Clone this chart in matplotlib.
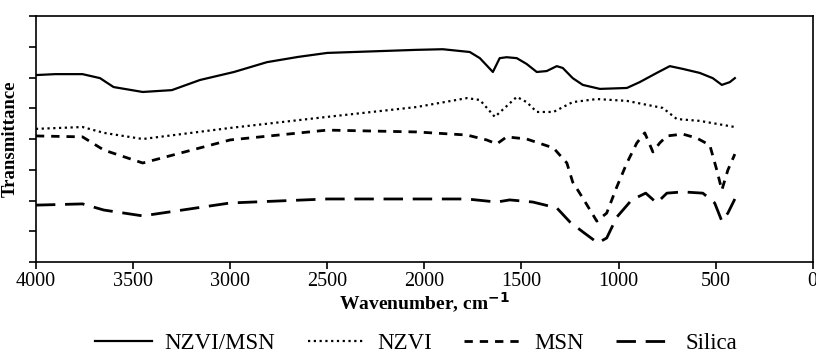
import matplotlib
matplotlib.use("Agg")
import matplotlib.pyplot as plt
import numpy as np

plt.rcParams['font.family'] = ['Liberation Serif', 'DejaVu Serif']

# FTIR spectra (wavenumber in cm-1, transmittance in arbitrary units)
nzvi_msn_x = [4000, 3900, 3760, 3670, 3600, 3450, 3300, 3155, 2980, 2810, 2650, 2500, 2040, 1905,
              1766, 1714, 1647, 1612, 1576, 1524, 1473, 1421, 1370, 1318, 1287, 1236, 1184, 1096,
              957, 891, 803, 736, 669, 582, 515, 468, 427, 401]
nzvi_msn_y = [6.08, 6.11, 6.11, 5.98, 5.69, 5.53, 5.59, 5.92, 6.18, 6.5, 6.67, 6.8, 6.9, 6.92,
              6.83, 6.63, 6.18, 6.63, 6.66, 6.63, 6.44, 6.18, 6.21, 6.37, 6.31, 5.98, 5.76, 5.63,
              5.66, 5.85, 6.15, 6.37, 6.28, 6.15, 5.98, 5.76, 5.85, 5.98]

nzvi_x = [4000, 3760, 3650, 3450, 3000, 2500, 2040, 1781, 1714, 1637, 1524, 1473, 1421, 1335,
          1236, 1112, 957, 772, 700, 582, 401]
nzvi_y = [4.33, 4.39, 4.2, 4.0, 4.36, 4.72, 5.04, 5.33, 5.27, 4.72, 5.37, 5.2, 4.88, 4.88,
          5.2, 5.3, 5.24, 5.01, 4.65, 4.59, 4.39]

msn_x = [4000, 3760, 3650, 3450, 3000, 2500, 2040, 1781, 1679, 1627, 1576, 1473, 1335, 1266,
         1236, 1184, 1112, 1061, 1009, 957, 906, 865, 823, 788, 751, 669, 597, 530, 494, 468,
         437, 401]
msn_y = [4.1, 4.07, 3.64, 3.22, 3.97, 4.29, 4.23, 4.13, 3.97, 3.84, 4.07, 4.0, 3.71, 3.22,
         2.6, 2.08, 1.33, 1.59, 2.44, 3.22, 3.87, 4.2, 3.58, 3.87, 4.1, 4.16, 4.03, 3.8, 2.99, 2.34,
         2.99, 3.51]

silica_x = [4000, 3760, 3650, 3450, 3000, 2500, 2040, 1781, 1627, 1560, 1441, 1318, 1250, 1184,
            1107, 1061, 1009, 932, 860, 803, 751, 669, 566, 505, 468, 437, 401]
silica_y = [1.85, 1.89, 1.69, 1.5, 1.92, 2.05, 2.05, 2.05, 1.95, 2.02, 1.95, 1.76, 1.3, 0.98,
            0.62, 0.78, 1.46, 2.02, 2.24, 1.92, 2.24, 2.28, 2.24, 1.92, 1.33, 1.59, 2.05]

xticks = [4000, 3500, 3000, 2500, 2000, 1500, 1000, 500, 0]

fig = plt.figure(figsize=(8.16, 3.56), dpi=100)
ax = fig.add_axes([0.044, 0.264, 0.952, 0.691])

ax.plot(nzvi_msn_x, nzvi_msn_y, color='black', lw=1.6, ls='-', label='NZVI/MSN')
ax.plot(nzvi_x, nzvi_y, color='black', lw=1.6, ls=(0, (1, 1.6)), label='NZVI')
ax.plot(msn_x, msn_y, color='black', lw=2, ls=(0, (3, 2.5)), label='MSN')
ax.plot(silica_x, silica_y, color='black', lw=2, ls=(0, (7, 3.5)), label='Silica')

ax.set_xlim(4000, 0)
ax.set_ylim(0, 8)
ax.set_xticks(xticks)
ax.set_xticklabels([str(t) for t in xticks])
ax.set_yticks(range(0, 9))
ax.set_yticklabels([])
ax.tick_params(direction='out', length=5, width=1.2, labelsize=14.5, pad=2)
for s in ax.spines.values():
    s.set_linewidth(1.2)

ax.set_xlabel('Wavenumber, cm$^{\\mathbf{-1}}$', fontsize=14, fontweight='bold', labelpad=0)
ax.set_ylabel('Transmittance', fontsize=13.5, fontweight='bold', labelpad=5)

fig.legend(loc='center', bbox_to_anchor=(0.51, 0.035), ncol=4, frameon=False,
           fontsize=16.5, handlelength=2.5, columnspacing=1.4, handletextpad=0.55)

fig.savefig('out.png', dpi=100)
